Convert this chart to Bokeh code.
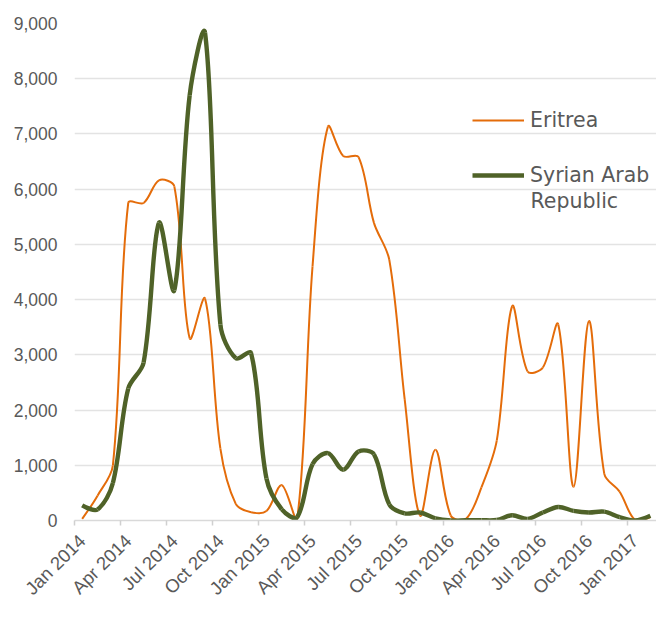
import numpy as np
from math import pi
from bokeh.plotting import figure
from bokeh.models import (FixedTicker, NumeralTickFormatter, Legend, LegendItem,
                          Range1d, ColumnDataSource, Label)
from bokeh.embed import file_html
from bokeh.resources import INLINE

# ---------------- data ----------------
month_index = list(range(38))  # Jan 2014 .. Feb 2017
tick_labels = ["Jan 2014", "Apr 2014", "Jul 2014", "Oct 2014",
               "Jan 2015", "Apr 2015", "Jul 2015", "Oct 2015",
               "Jan 2016", "Apr 2016", "Jul 2016", "Oct 2016",
               "Jan 2017"]
eritrea = [30, 450, 1000, 5750, 5750, 6160, 6050, 3300, 4020, 1300,
           300, 150, 170, 640, 30, 4600, 7130, 6600, 6580, 5390,
           4720, 2200, 90, 1280, 90, 30, 600, 1450, 3880, 2700,
           2770, 3550, 610, 3610, 845, 520, 10, 60]
syria = [275, 200, 680, 2390, 2860, 5390, 4170, 7700, 8830, 3550,
         2940, 3030, 760, 200, 60, 1020, 1220, 920, 1250, 1200,
         290, 130, 145, 40, 0, 5, 5, 10, 95, 30,
         145, 245, 175, 145, 160, 60, 0, 85]
y_ticks = [0, 1000, 2000, 3000, 4000, 5000, 6000, 7000, 8000, 9000]
series_names = ["Eritrea", "Syrian Arab", "Republic"]

ORANGE = "#E46C0A"
GREEN = "#4F6228"
TEXT = "#595959"

W, H = 656, 609
LEFT, RIGHT, TOP, BOTTOM = 74, 0, 23, 83
X0, X1 = -0.5, 37.4
Y0, Y1 = 0, 9000


def smooth_segments(xs, ys, t=1/3):
    """Bezier control points for an Excel-like smoothed line through the data."""
    xs = np.asarray(xs, float)
    ys = np.asarray(ys, float)
    sx = (W - LEFT - RIGHT) / (X1 - X0)
    sy = (H - TOP - BOTTOM) / (Y1 - Y0)
    n = len(xs)
    cin_x = xs.copy(); cin_y = ys.copy()
    cout_x = xs.copy(); cout_y = ys.copy()
    for i in range(1, n - 1):
        dp = np.hypot((xs[i] - xs[i-1]) * sx, (ys[i] - ys[i-1]) * sy)
        dn = np.hypot((xs[i+1] - xs[i]) * sx, (ys[i+1] - ys[i]) * sy)
        tx = xs[i+1] - xs[i-1]
        ty = ys[i+1] - ys[i-1]
        s = dp + dn
        fa = t * dp / s
        fb = t * dn / s
        cin_x[i] = xs[i] - fa * tx
        cin_y[i] = ys[i] - fa * ty
        cout_x[i] = xs[i] + fb * tx
        cout_y[i] = ys[i] + fb * ty
    return dict(x0=xs[:-1], y0=ys[:-1], x1=xs[1:], y1=ys[1:],
                cx0=cout_x[:-1], cy0=cout_y[:-1],
                cx1=cin_x[1:], cy1=cin_y[1:])


p = figure(width=W, height=H, output_backend="svg", toolbar_location=None,
           x_range=Range1d(X0, X1), y_range=Range1d(Y0, Y1),
           min_border_left=LEFT, min_border_right=RIGHT,
           min_border_top=TOP, min_border_bottom=BOTTOM)
p.outline_line_color = None
p.background_fill_color = "white"
p.border_fill_color = "white"

src_e = ColumnDataSource(smooth_segments(month_index, eritrea))
src_s = ColumnDataSource(smooth_segments(month_index, syria))

r_e = p.bezier(x0="x0", y0="y0", x1="x1", y1="y1", cx0="cx0", cy0="cy0",
               cx1="cx1", cy1="cy1", source=src_e, line_color=ORANGE,
               line_width=2)
r_s = p.bezier(x0="x0", y0="y0", x1="x1", y1="y1", cx0="cx0", cy0="cy0",
               cx1="cx1", cy1="cy1", source=src_s, line_color=GREEN,
               line_width=4.4)

# ---------------- axes ----------------
p.xgrid.grid_line_color = None
p.ygrid.grid_line_color = "#e3e3e3"
p.ygrid.grid_line_width = 1.5

p.yaxis.ticker = FixedTicker(ticks=y_ticks)
p.yaxis.formatter = NumeralTickFormatter(format="0,0")
p.yaxis.axis_line_color = None
p.yaxis.major_tick_line_color = None
p.yaxis.major_tick_out = 0
p.yaxis.major_tick_in = 0
p.yaxis.minor_tick_line_color = None
p.yaxis.minor_tick_out = 0
p.yaxis.minor_tick_in = 0
p.yaxis.major_label_standoff = 17
p.yaxis.major_label_text_font = "Liberation Sans"
p.yaxis.major_label_text_font_size = "17.5px"
p.yaxis.major_label_text_color = TEXT

label_pos = [float(3 * k) for k in range(len(tick_labels))]
boundary_pos = [3 * k - 0.5 for k in range(len(tick_labels))]
p.xaxis.ticker = FixedTicker(ticks=label_pos, minor_ticks=boundary_pos)
p.xaxis.major_label_overrides = {v: lab for v, lab in zip(label_pos, tick_labels)}
p.xaxis.major_label_orientation = pi / 4
p.xaxis.major_tick_in = 0
p.xaxis.major_tick_out = 0
p.xaxis.minor_tick_in = 0
p.xaxis.minor_tick_out = 5
p.xaxis.minor_tick_line_color = "#d0d0d0"
p.xaxis.minor_tick_line_width = 1.5
p.xaxis.axis_line_color = "#d9d9d9"
p.xaxis.axis_line_width = 1.5
p.xaxis.major_label_standoff = 12
p.xaxis.major_label_text_font = "Liberation Sans"
p.xaxis.major_label_text_font_size = "18.5px"
p.xaxis.major_label_text_color = TEXT

# ---------------- legend ----------------
legend = Legend(items=[LegendItem(label=series_names[0], renderers=[r_e]),
                       LegendItem(label=series_names[1], renderers=[r_s])],
                location=(398, 333))
legend.border_line_color = None
legend.background_fill_alpha = 0
legend.padding = 0
legend.margin = 0
legend.glyph_width = 52
legend.glyph_height = 20
legend.label_standoff = 6
legend.spacing = 31
legend.label_text_font = "DejaVu Sans"
legend.label_text_font_size = "20.5px"
legend.label_text_color = TEXT
p.add_layout(legend)

p.add_layout(Label(x=456, y=320, x_units="screen", y_units="screen",
                   text=series_names[2], text_font="DejaVu Sans",
                   text_font_size="20.5px", text_color=TEXT,
                   text_align="left", text_baseline="middle"))

open("out.html", "w").write(file_html(p, INLINE))
